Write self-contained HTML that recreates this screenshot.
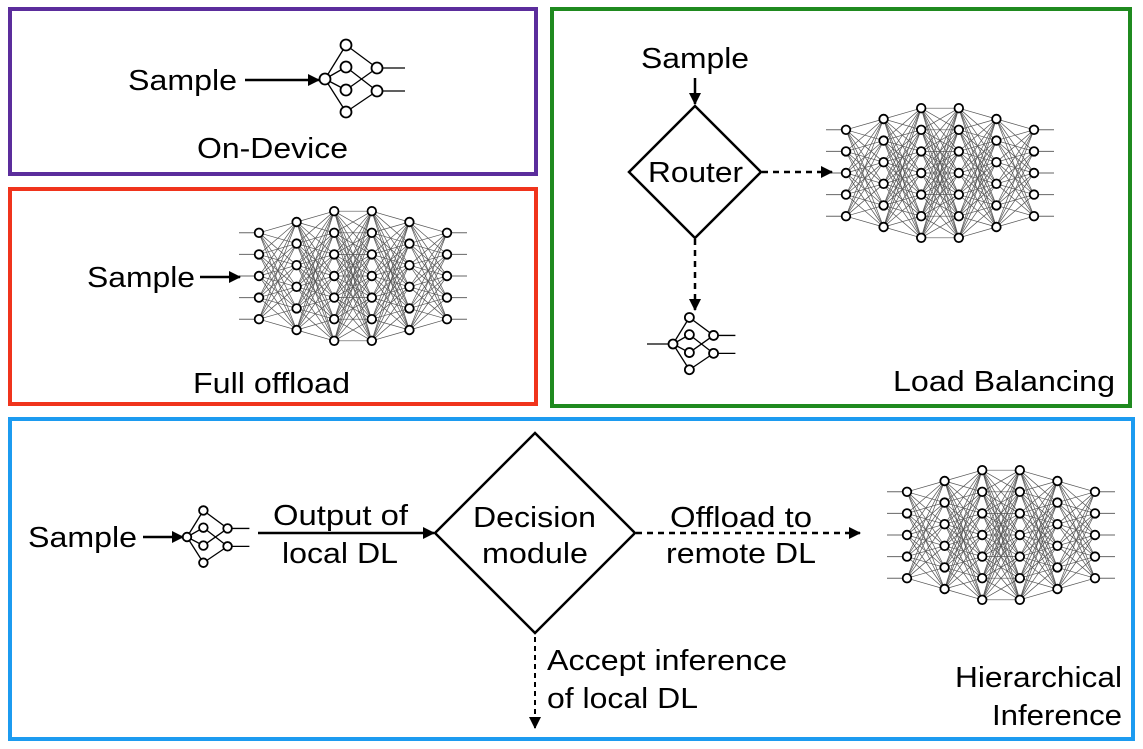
<!DOCTYPE html>
<html><head><meta charset="utf-8"><style>
html,body{margin:0;padding:0;background:#fff;}
svg{display:block;}
text{font-family:"Liberation Sans",Arial,sans-serif;font-size:29px;fill:#000;}
</style></head><body>
<svg id="s" width="1143" height="749" viewBox="0 0 1143 749" xmlns="http://www.w3.org/2000/svg">
<defs>
<marker id="ah" markerWidth="12" markerHeight="12" refX="11" refY="6" orient="auto" markerUnits="userSpaceOnUse"><path d="M0,0 L12,6 L0,12 z" fill="#000"/></marker>
</defs>
<rect x="10" y="9" width="526" height="165" fill="none" stroke="#5b2d9c" stroke-width="4"/>
<rect x="10" y="189" width="526" height="215" fill="none" stroke="#f0341c" stroke-width="4"/>
<rect x="552" y="9" width="578" height="397" fill="none" stroke="#1f8a1f" stroke-width="4"/>
<rect x="10" y="419" width="1123" height="320" fill="none" stroke="#1c9bf0" stroke-width="4"/>

<g id="g"></g>

<text x="128" y="90" textLength="109" lengthAdjust="spacingAndGlyphs">Sample</text>
<line x1="245" y1="80" x2="319" y2="80" stroke="#000" stroke-width="2.5" marker-end="url(#ah)"/>
<text x="197" y="158" textLength="151" lengthAdjust="spacingAndGlyphs">On-Device</text>

<text x="87" y="287" textLength="108" lengthAdjust="spacingAndGlyphs">Sample</text>
<line x1="200" y1="277" x2="240" y2="277" stroke="#000" stroke-width="2.5" marker-end="url(#ah)"/>
<text x="193" y="393" textLength="157" lengthAdjust="spacingAndGlyphs">Full offload</text>

<text x="641" y="68" textLength="108" lengthAdjust="spacingAndGlyphs">Sample</text>
<line x1="695" y1="78" x2="695" y2="104" stroke="#000" stroke-width="2.5" marker-end="url(#ah)"/>
<polygon points="695,106 761,172 695,238 629,172" fill="#fff" stroke="#000" stroke-width="2.5"/>
<text x="648" y="182" textLength="95" lengthAdjust="spacingAndGlyphs">Router</text>
<line x1="762" y1="172" x2="832" y2="172" stroke="#000" stroke-width="2.5" stroke-dasharray="6,5" marker-end="url(#ah)"/>
<line x1="695" y1="239" x2="695" y2="310" stroke="#000" stroke-width="2.5" stroke-dasharray="6,5" marker-end="url(#ah)"/>
<text x="893" y="391" textLength="222" lengthAdjust="spacingAndGlyphs">Load Balancing</text>

<text x="28" y="547" textLength="109" lengthAdjust="spacingAndGlyphs">Sample</text>
<line x1="143" y1="537" x2="183" y2="537" stroke="#000" stroke-width="2.5" marker-end="url(#ah)"/>
<line x1="258" y1="533" x2="434" y2="533" stroke="#000" stroke-width="2.5" marker-end="url(#ah)"/>
<text x="273" y="525" textLength="135" lengthAdjust="spacingAndGlyphs">Output of</text>
<text x="282" y="563" textLength="116" lengthAdjust="spacingAndGlyphs">local DL</text>
<polygon points="535,433 635,533 535,633 435,533" fill="#fff" stroke="#000" stroke-width="2.5"/>
<text x="473" y="527" textLength="123" lengthAdjust="spacingAndGlyphs">Decision</text>
<text x="482" y="563" textLength="106" lengthAdjust="spacingAndGlyphs">module</text>
<line x1="636" y1="533" x2="860" y2="533" stroke="#000" stroke-width="2.5" stroke-dasharray="6,5" marker-end="url(#ah)"/>
<text x="670" y="527" textLength="142" lengthAdjust="spacingAndGlyphs">Offload to</text>
<text x="666" y="563" textLength="150" lengthAdjust="spacingAndGlyphs">remote DL</text>
<line x1="535" y1="637" x2="535" y2="728" stroke="#000" stroke-width="2" stroke-dasharray="5,4" marker-end="url(#ah)"/>
<text x="547" y="670" textLength="240" lengthAdjust="spacingAndGlyphs">Accept inference</text>
<text x="547" y="708" textLength="151" lengthAdjust="spacingAndGlyphs">of local DL</text>
<text x="955" y="687" textLength="167" lengthAdjust="spacingAndGlyphs">Hierarchical</text>
<text x="992" y="725" textLength="130" lengthAdjust="spacingAndGlyphs">Inference</text>
</svg>
<script>
var NS="http://www.w3.org/2000/svg",g=document.getElementById("g");
function el(t,a){var e=document.createElementNS(NS,t);for(var k in a)e.setAttribute(k,a[k]);g.appendChild(e);return e;}
function big(x0,cy){
  var counts=[5,6,7,7,6,5],dx=37.6,sp=21.6,L=[];
  for(var i=0;i<6;i++){var n=counts[i],arr=[];for(var j=0;j<n;j++)arr.push([x0+i*dx,cy+(j-(n-1)/2)*sp]);L.push(arr);}
  for(var i=0;i<5;i++)for(var a=0;a<L[i].length;a++)for(var b=0;b<L[i+1].length;b++)
    el("line",{x1:L[i][a][0],y1:L[i][a][1],x2:L[i+1][b][0],y2:L[i+1][b][1],stroke:"#555","stroke-width":0.7});
  L[0].forEach(function(p){el("line",{x1:p[0]-20,y1:p[1],x2:p[0],y2:p[1],stroke:"#666","stroke-width":1});});
  L[5].forEach(function(p){el("line",{x1:p[0],y1:p[1],x2:p[0]+20,y2:p[1],stroke:"#666","stroke-width":1});});
  L.forEach(function(l){l.forEach(function(p){el("circle",{cx:p[0],cy:p[1],r:4.3,fill:"#fff",stroke:"#000","stroke-width":1.8});});});
}
function small(x,y,s,r){
  var inp=[x,y],mid=[[x+21*s,y-34*s],[x+21*s,y-12*s],[x+21*s,y+11*s],[x+21*s,y+33*s]],out=[[x+52*s,y-11*s],[x+52*s,y+12*s]];
  var c=[[0,0],[1,1],[2,0],[3,1]];
  mid.forEach(function(m){el("line",{x1:inp[0],y1:inp[1],x2:m[0],y2:m[1],stroke:"#000","stroke-width":1.3});});
  c.forEach(function(p){el("line",{x1:mid[p[0]][0],y1:mid[p[0]][1],x2:out[p[1]][0],y2:out[p[1]][1],stroke:"#000","stroke-width":1.3});});
  out.forEach(function(o){el("line",{x1:o[0],y1:o[1],x2:o[0]+28*s,y2:o[1],stroke:"#000","stroke-width":1.3});});
  [inp].concat(mid,out).forEach(function(p){el("circle",{cx:p[0],cy:p[1],r:r,fill:"#fff",stroke:"#000","stroke-width":1.8});});
}
big(259,276);big(846,173);big(907,535);
small(325,79,1,5.5);
el("line",{x1:647,y1:344,x2:673,y2:344,stroke:"#000","stroke-width":1.3});
small(673,344,0.78,4.5);
small(187,537,0.78,4.3);
</script>
</body></html>
